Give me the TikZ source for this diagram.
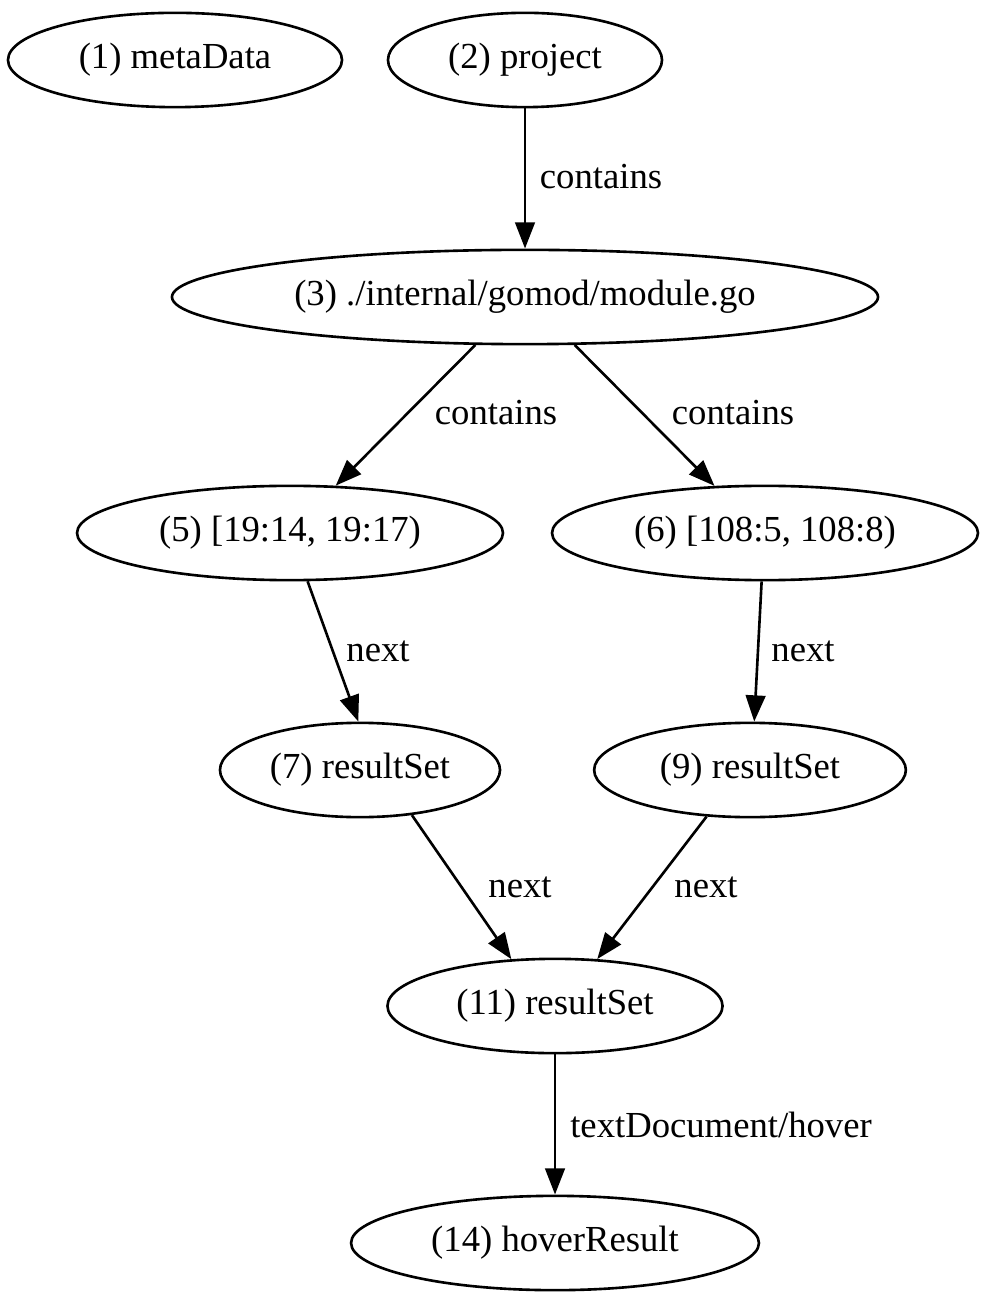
\documentclass[tikz,border=0pt]{standalone}
\usepackage{fontspec}
\setmainfont{Liberation Serif}
\usepackage{tikz}
\usetikzlibrary{shapes.geometric,arrows.meta}

\tikzset{
  state/.style={shape=ellipse,draw=black,line width=1pt,inner sep=0pt,minimum height=36pt,font=\fontsize{14}{16}\selectfont},
  lbl/.style={inner sep=0pt,font=\fontsize{14}{16}\selectfont},
  link/.style={-{Triangle[length=10pt,width=7.5pt]},line width=1pt}
}

\begin{document}
\begin{tikzpicture}[x={(0.3817pt,0)},y={(0,-0.3817pt)}]
\useasboundingbox (0,0) rectangle (990,1302);
\node[state,minimum width=127.5pt] (md) at (175,60) {(1) metaData};
\node[state,minimum width=104.6pt] (proj) at (525,60) {(2) project};
\node[state,minimum width=269.5pt] (doc) at (525,297) {(3) ./internal/gomod/module.go};
\node[state,minimum width=162.6pt] (r5) at (290,533) {(5) [19:14, 19:17)};
\node[state,minimum width=162.6pt] (r6) at (765,533) {(6) [108:5, 108:8)};
\node[state,minimum width=106.9pt] (rs7) at (360,770) {(7) resultSet};
\node[state,minimum width=119pt] (rs9) at (750,770) {(9) resultSet};
\node[state,minimum width=127.9pt] (rs11) at (555,1006) {(11) resultSet};
\node[state,minimum width=155.7pt] (hov) at (555,1243) {(14) hoverResult};

\path[link] (proj) edge (doc);
\path[link] (doc.224) edge (r5.46);
\path[link] (doc.316) edge (r6.137);
\path[link] (r5.290) edge (rs7.92);
\path[link] (r6.266) edge (rs9.85);
\path[link] (rs7.319) edge (rs11.133);
\path[link] (rs9.227) edge (rs11.48);
\path[link] (rs11) edge (hov);

\node[lbl] (c23) at (601,177) {contains};
\node[lbl] (c35) at (496,413) {contains};
\node[lbl] (c36) at (733,413) {contains};
\node[lbl] (n57) at (378,651) {next};
\node[lbl] (n69) at (803,651) {next};
\node[lbl] (n711) at (520,887) {next};
\node[lbl] (n911) at (706,887) {next};
\node[lbl] (h1114) at (721,1125) {textDocument/hover};
\end{tikzpicture}
\end{document}
